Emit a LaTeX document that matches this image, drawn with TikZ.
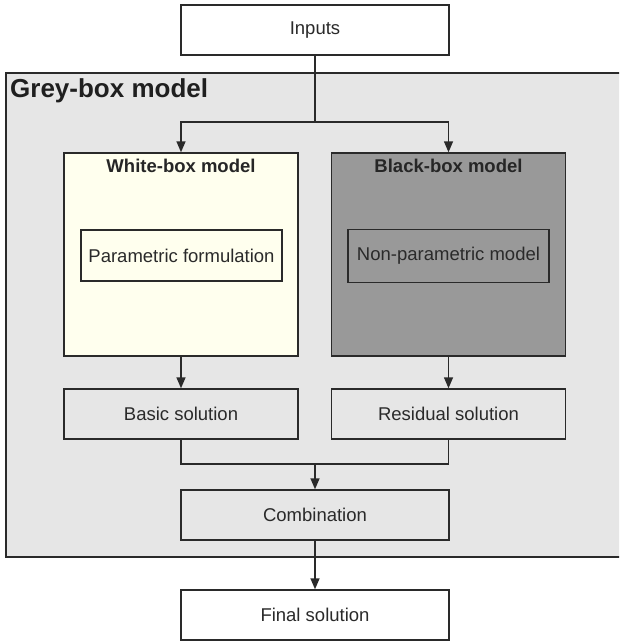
\documentclass[tikz,border=0pt]{standalone}
\usepackage{fontspec}
\setmainfont{Liberation Sans}
\usetikzlibrary{arrows.meta}
\definecolor{lineC}{HTML}{2A2A2A}
\definecolor{textC}{HTML}{2A2A2A}
\definecolor{greyBg}{HTML}{E6E6E6}
\definecolor{whiteBg}{HTML}{FFFFEE}
\definecolor{blackBg}{HTML}{999999}
\tikzset{
  box/.style={draw=lineC, line width=1.4pt, rectangle, inner sep=0pt,
    text=textC, font=\fontsize{18.5}{22}\selectfont},
  wide/.style={box, minimum width=268pt, minimum height=50pt},
  half/.style={box, minimum width=234pt, minimum height=50pt},
  model/.style={box, minimum width=234pt, minimum height=203pt},
  inner/.style={box, minimum width=201pt, minimum height=51pt},
  title/.style={anchor=base, inner sep=0pt, text=black!85, font=\fontsize{18.5}{22}\selectfont\bfseries},
  conn/.style={draw=lineC, line width=1.4pt},
  arr/.style={conn, -{Triangle[length=11pt,width=9pt]}}
}
\begin{document}
\begin{tikzpicture}[x=1pt,y=-1pt]
\useasboundingbox (0,0) rectangle (619,642);
\clip (0,0) rectangle (619,642);
% grey-box region
\path[fill=greyBg, draw=lineC, line width=1.4pt] (6,73) rectangle (660,557);
\node[anchor=base west, inner sep=0pt, text=black!88, font=\fontsize{26}{31}\selectfont\bfseries] (gtitle) at (10,97) {Grey-box model};
% nodes
\node[wide, fill=white] (in) at (315,30) {Inputs};
\node[model, fill=whiteBg] (wb) at (181,254.5) {};
\node[model, fill=blackBg] (bb) at (448.5,254.5) {};
\node[title] (wbt) at (181,172) {White-box model};
\node[title] (bbt) at (448.5,172) {Black-box model};
\node[inner] (pf) at (181.5,255.5) {Parametric formulation};
\node[inner, minimum height=53pt] (np) at (448.5,256) {Non-parametric model};
\node[half] (bs) at (181,414) {Basic solution};
\node[half] (rs) at (448.5,414) {Residual solution};
\node[wide] (comb) at (315,515) {Combination};
\node[wide, fill=white] (fs) at (315,615) {Final solution};
% connectors
\coordinate (split) at (315,122);
\coordinate (merge) at (315,464);
\draw[conn] (in.south) -- (split);
\draw[arr] (split) -| (wb.north);
\draw[arr] (split) -| (bb.north);
\draw[arr] (wb.south) -- (bs.north);
\draw[arr] (bb.south) -- (rs.north);
\draw[conn] (bs.south) |- (merge);
\draw[conn] (rs.south) |- (merge);
\draw[arr] (merge) -- (comb.north);
\draw[arr] (comb.south) -- (fs.north);
\end{tikzpicture}
\end{document}
